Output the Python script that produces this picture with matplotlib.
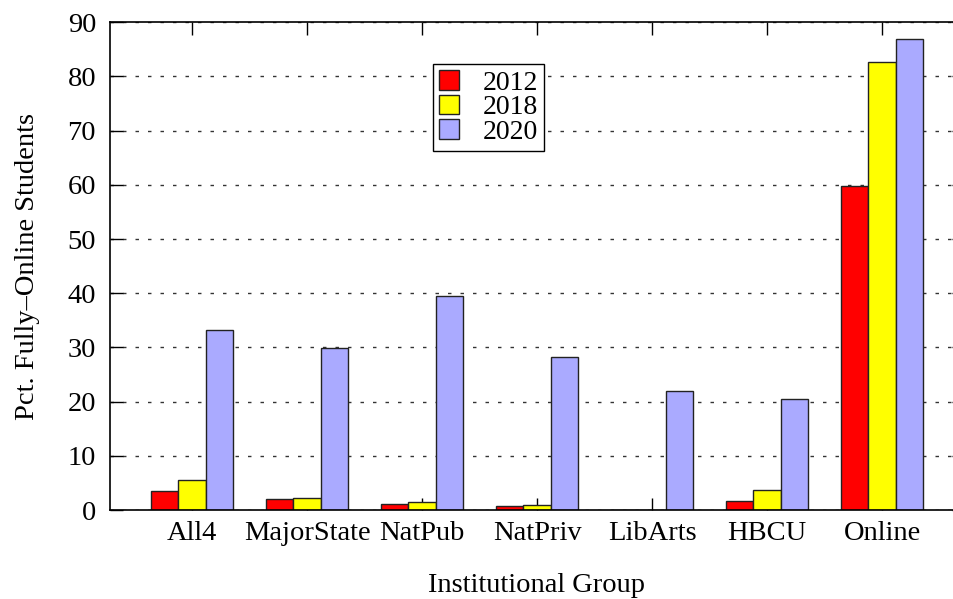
import matplotlib
matplotlib.use("Agg")
import matplotlib.pyplot as plt
import numpy as np

groups = ["All4", "MajorState", "NatPub", "NatPriv", "LibArts", "HBCU", "Online"]
years = ["2012", "2018", "2020"]
pct_2012 = [3.5, 2.0, 1.1, 0.7, 0.0, 1.6, 59.7]
pct_2018 = [5.5, 2.2, 1.5, 0.9, 0.0, 3.7, 82.6]
pct_2020 = [33.3, 29.9, 39.5, 28.3, 22.0, 20.5, 87.0]
colors = ["#ff0000", "#ffff00", "#aaaaff"]
yticks = [0, 10, 20, 30, 40, 50, 60, 70, 80, 90]

plt.rcParams["font.family"] = ["Liberation Serif", "DejaVu Serif"]
plt.rcParams["font.size"] = 20.5

W, H = 954, 599
fig = plt.figure(figsize=(W / 100, H / 100), dpi=100)
left, right, top, bottom = 110, 964, 22.3, 510
ax = fig.add_axes([left / W, (H - bottom) / H, (right - left) / W, (bottom - top) / H])

x = np.arange(len(groups))
bw = 0.239
for i, (vals, c, lab) in enumerate(zip([pct_2012, pct_2018, pct_2020], colors, years)):
    ax.bar(x + (i - 1) * bw, vals, width=bw, color=c, edgecolor="#222222",
           linewidth=1.0, label=lab, zorder=2)

ax.set_xlim(-0.713, 6.713)
ax.set_ylim(0, 90)
ax.set_yticks(yticks)
ax.set_xticks(x)
ax.set_xticklabels(groups)
ax.set_axisbelow(True)
ax.yaxis.grid(True, color="#333333", linestyle=(0, (2.5, 6.5)), linewidth=1.0)

ax.tick_params(axis="both", direction="in", length=9, width=1.0,
               top=True, right=True, labelsize=20.5)
ax.tick_params(axis="y", pad=10)
ax.tick_params(axis="x", pad=8)
for s in ax.spines.values():
    s.set_linewidth(1.2)

ax.set_xlabel("Institutional Group", fontsize=20.5, labelpad=19)
ax.set_ylabel("Pct. Fully–Online Students", fontsize=20.5, labelpad=20)

leg = ax.legend(loc="upper left",
                bbox_to_anchor=((433 - left) / (right - left), (bottom - 64.3) / (bottom - top)),
                frameon=True, fancybox=False, edgecolor="black", framealpha=1.0,
                fontsize=20, handlelength=0.72, handleheight=0.7, handletextpad=0.85,
                labelspacing=-0.04, borderpad=0.22, borderaxespad=0)
leg.get_frame().set_linewidth(1.0)

fig.savefig("out.png", dpi=100)
